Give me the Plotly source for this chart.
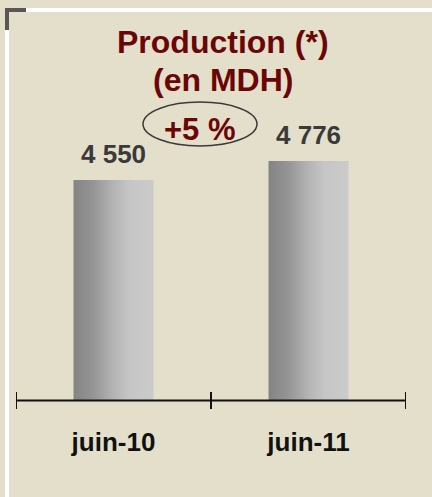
"""Production (en MDH) - juin-10 vs juin-11."""

import plotly.graph_objects as go

# data
periods = ["juin-10", "juin-11"]
production = [4550, 4776]
value_labels = ["4 550", "4 776"]
growth_label = "+5 %"
title_lines = ["Production (*)", "(en MDH)"]

W, H = 432, 497
BG = "#e3dfcb"
RED = "#6b0606"
FONT = "Liberation Sans, Arial, sans-serif"

# pixel helpers (margins are zero, so paper coords == page fraction)
def px(x):
    return x / W


def py(y):
    return 1 - y / H


y_min, y_max = 1933, 5500
bar_w = 0.41
xs = list(range(len(periods)))

fig = go.Figure()

# bars with a horizontal grey gradient
for i, v in zip(xs, production):
    x0, x1 = i - bar_w / 2, i + bar_w / 2
    fig.add_trace(go.Scatter(
        x=[x0, x1, x1, x0, x0],
        y=[y_min, y_min, v, v, y_min],
        mode="lines",
        line=dict(width=0),
        fill="toself",
        fillgradient=dict(
            type="horizontal",
            colorscale=[[0, "#848484"], [0.25, "#959595"], [0.5, "#b4b4b4"], [0.7, "#c6c6c6"], [1, "#cbcbcb"]],
        ),
        hoverinfo="skip",
        showlegend=False,
    ))

# value labels above bars
for i, v, lab in zip(xs, production, value_labels):
    fig.add_annotation(x=i, y=v, text=lab, showarrow=False, yanchor="bottom", yshift=9,
                       font=dict(family=FONT, size=26, color="#3a3a3a", weight="bold"))

fig.update_layout(
    width=W, height=H,
    margin=dict(l=0, r=0, t=0, b=0),
    paper_bgcolor=BG, plot_bgcolor=BG,
    xaxis=dict(
        domain=[px(16), px(406)], range=[-0.5, len(periods) - 0.5],
        tickvals=xs, ticktext=periods, ticks="", showline=False,
        showgrid=False, zeroline=False, ticklabelstandoff=24,
        tickfont=dict(family=FONT, size=26, color="#111111", weight="bold"),
    ),
    yaxis=dict(
        domain=[py(400), py(100)], range=[y_min, y_max],
        visible=False, showgrid=False, zeroline=False,
    ),
)

shapes = [
    # frame: white top/left lines and dark corner
    dict(type="line", xref="paper", yref="paper", x0=px(26), x1=1, y0=py(10), y1=py(10),
         line=dict(color="#ffffff", width=4)),
    dict(type="line", xref="paper", yref="paper", x0=px(7), x1=px(7), y0=py(29), y1=0,
         line=dict(color="#ffffff", width=4)),
    dict(type="path", xref="paper", yref="paper",
         path=f"M {px(7)},{py(30)} L {px(7)},{py(10)} L {px(26)},{py(10)}",
         line=dict(color="#5a5656", width=4)),
    # axis line
    dict(type="line", xref="x", yref="paper", x0=-0.5, x1=len(periods) - 0.5,
         y0=py(400.5), y1=py(400.5), line=dict(color="#111111", width=2)),
    # growth ellipse
    dict(type="circle", xref="paper", yref="paper", x0=px(143), x1=px(257),
         y0=py(146), y1=py(102), line=dict(color="#3a3a3a", width=1.5)),
]
for k in range(len(periods) + 1):
    shapes.append(dict(type="line", xref="x", yref="paper", x0=k - 0.5, x1=k - 0.5,
                       y0=py(392), y1=py(409), line=dict(color="#111111", width=2)))
fig.update_layout(shapes=shapes)

for text, y in zip(title_lines, [42, 80]):
    fig.add_annotation(text=text, xref="paper", yref="paper", x=px(223), y=py(y),
                       showarrow=False, xanchor="center", yanchor="middle",
                       font=dict(family=FONT, size=32, color=RED, weight="bold"))
fig.add_annotation(text=growth_label, xref="paper", yref="paper", x=px(200), y=py(130),
                   showarrow=False, xanchor="center", yanchor="middle",
                   font=dict(family=FONT, size=31, color=RED, weight="bold"))

# drop the default body margin so the figure sits at the window origin
fig.write_html("out.html", config={"displayModeBar": False},
               post_script="document.body.style.margin='0';")
